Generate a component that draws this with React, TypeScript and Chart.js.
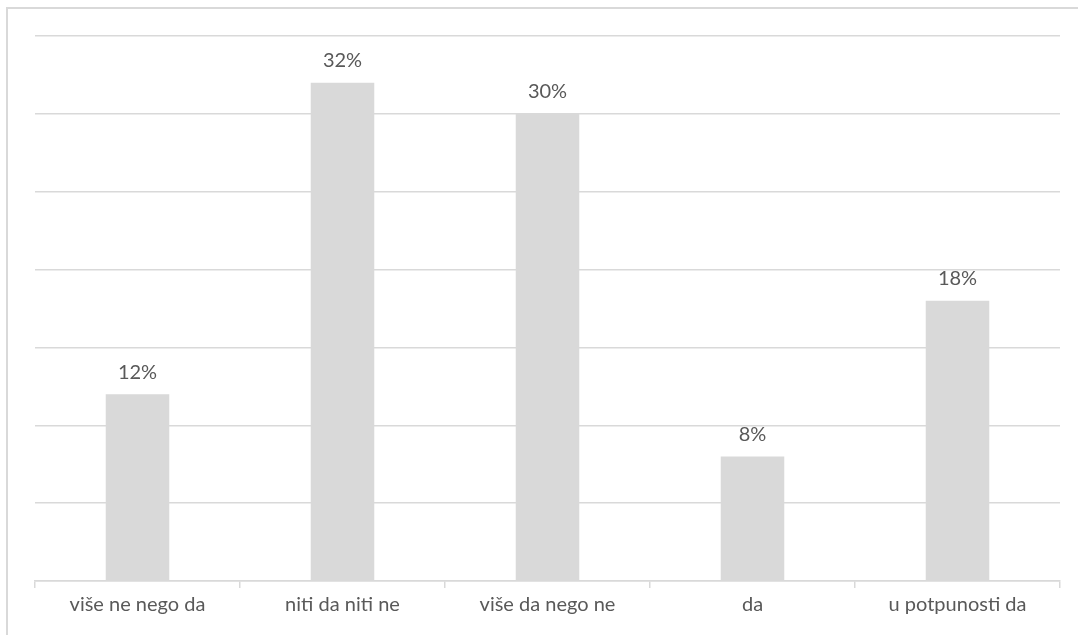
import React, { useEffect, useRef } from "react";
import { Chart, registerables } from "chart.js";

Chart.register(...registerables);

const categories = ["više ne nego da", "niti da niti ne", "više da nego ne", "da", "u potpunosti da"];
const values = [12, 32, 30, 8, 18];
const valueLabels = ["12%", "32%", "30%", "8%", "18%"];

const FONT = "Lato, 'Open Sans', sans-serif";
const TEXT = "#595959";
const LINE = "#d9d9d9";

const labelPlugin = {
  id: "barLabels",
  afterDatasetsDraw(chart: any) {
    const ctx = chart.ctx;
    const meta = chart.getDatasetMeta(0);
    ctx.save();
    ctx.fillStyle = TEXT;
    ctx.font = `20px ${FONT}`;
    ctx.textAlign = "center";
    ctx.textBaseline = "middle";
    meta.data.forEach((bar: any, i: number) => {
      ctx.fillText(valueLabels[i], bar.x, bar.y - 22);
    });
    ctx.restore();
  },
};

export default function App() {
  const ref = useRef<HTMLCanvasElement>(null);
  useEffect(() => {
    const chart = new Chart(ref.current!, {
      type: "bar",
      data: {
        labels: categories,
        datasets: [
          {
            data: values,
            backgroundColor: "#d9d9d9",
            categoryPercentage: 1,
            barPercentage: 0.31,
          },
        ],
      },
      options: {
        animation: false,
        responsive: false,
        maintainAspectRatio: false,
        layout: { padding: { left: 35, top: 36, right: 18, bottom: 0 } },
        plugins: { legend: { display: false }, tooltip: { enabled: false } },
        scales: {
          x: {
            afterFit: (s: any) => {
              s.height = 54;
            },
            grid: {
              drawOnChartArea: false,
              color: LINE,
              tickLength: 7,
              lineWidth: 1.5,
            },
            border: { color: LINE, width: 1.5 },
            ticks: { color: TEXT, font: { family: FONT, size: 20 }, padding: 5 },
          },
          y: {
            min: 0,
            max: 35,
            afterFit: (s: any) => {
              s.width = 0;
            },
            ticks: { display: false, stepSize: 5 },
            grid: { color: LINE, lineWidth: 1.5, drawTicks: false },
            border: { display: false },
          },
        },
      },
      plugins: [labelPlugin],
    });
    return () => chart.destroy();
  }, []);
  return (
    <div style={{ position: "fixed", left: 0, top: 0, width: 1078, height: 635, background: "#fff", overflow: "hidden" }}>
      <canvas ref={ref} width={1078} height={635} style={{ position: "absolute", left: 0, top: 0 }} />
      <div
        style={{
          position: "absolute",
          left: 6,
          top: 7,
          width: 1090,
          height: 650,
          border: "2px solid #d9d9d9",
          boxSizing: "border-box",
          pointerEvents: "none",
        }}
      />
    </div>
  );
}
